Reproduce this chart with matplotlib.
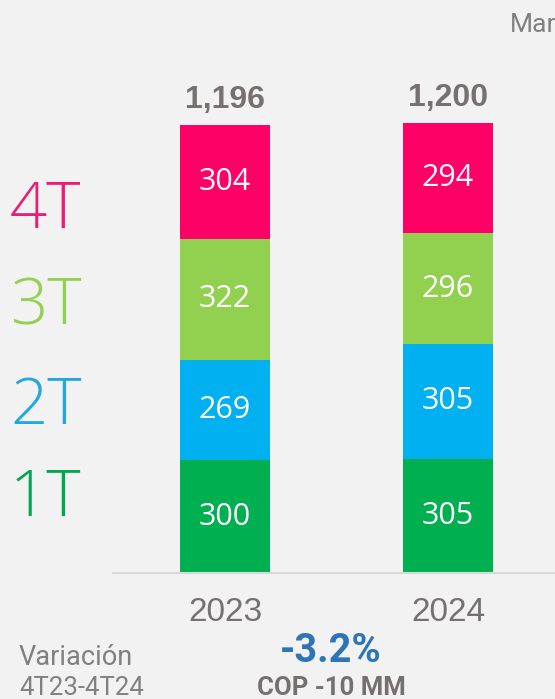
import matplotlib
matplotlib.use("Agg")
import matplotlib.pyplot as plt
import numpy as np

years = ["2023", "2024"]
q1 = [300, 305]
q2 = [269, 305]
q3 = [322, 296]
q4 = [304, 294]
totals = ["1,196", "1,200"]
quarter_labels = ["1T", "2T", "3T", "4T"]
bar_colors = ["#00B050", "#00B0F0", "#92D050", "#FF0066"]
label_colors = ["#00A651", "#22A8E0", "#92D050", "#EA1D74"]
variation_pct = "-3.2%"
variation_abs = "COP -10 MM"

W, H = 555, 699
bg = "#F2F2F2"
fig = plt.figure(figsize=(W / 100, H / 100), dpi=100, facecolor=bg)
ax = fig.add_axes([113 / W, 126 / H, 442 / W, 533 / H])
ax.set_facecolor(bg)

x = np.arange(len(years))
series = [q1, q2, q3, q4]
bottom = np.zeros(len(years))
for vals, col in zip(series, bar_colors):
    vals = np.array(vals, dtype=float)
    ax.bar(x, vals, bottom=bottom, width=0.404, color=col, edgecolor="none")
    for xi, b, v in zip(x, bottom, vals):
        ax.text(xi, b + v / 2, f"{int(v)}", ha="center", va="center", color="white",
                fontsize=22, family="Open Sans")
    bottom = bottom + vals

for xi, top, t in zip(x, bottom, totals):
    ax.annotate(t, (xi, top), xytext=(0, 7), textcoords="offset points", ha="center",
                va="bottom", fontsize=23, fontweight="bold", color="#767171",
                family="Liberation Sans")

ax.set_xlim(-0.502, 1.480)
ax.set_ylim(0, 1421)
for s in ["top", "right", "left"]:
    ax.spines[s].set_visible(False)
ax.spines["bottom"].set_color("#D9D9D9")
ax.spines["bottom"].set_linewidth(1.5)
ax.set_yticks([])
ax.set_xticks(x)
ax.set_xticklabels(years, fontsize=24, color="#767171", family="Liberation Sans")
ax.tick_params(axis="x", length=0, pad=17)

# left quarter labels
label_y = [500, 408, 308, 211]
for lab, col, yy in zip(quarter_labels, label_colors, label_y):
    fig.text(10 / W, 1 - yy / H, lab, ha="left", va="center", fontsize=47,
             fontweight="light", color=col, family="Open Sans")

fig.text(510 / W, 1 - 32 / H, "Mar", ha="left", va="baseline", fontsize=19,
         color="#808080", family="Roboto")

fig.text(19 / W, 1 - 665 / H, "Variación", ha="left", va="baseline", fontsize=19.5,
         color="#808080", family="Roboto")
fig.text(19 / W, 1 - 695 / H, "4T23-4T24", ha="left", va="baseline", fontsize=18.5,
         color="#808080", family="Roboto")
fig.text(331 / W, 1 - 662 / H, variation_pct, ha="center", va="baseline", fontsize=28.5,
         fontweight="bold", color="#2E75B6", family="Roboto")
fig.text(331 / W, 1 - 695 / H, variation_abs, ha="center", va="baseline", fontsize=18.5,
         fontweight="bold", color="#767171", family="Roboto")

fig.savefig("out.png", dpi=100, facecolor=bg)
